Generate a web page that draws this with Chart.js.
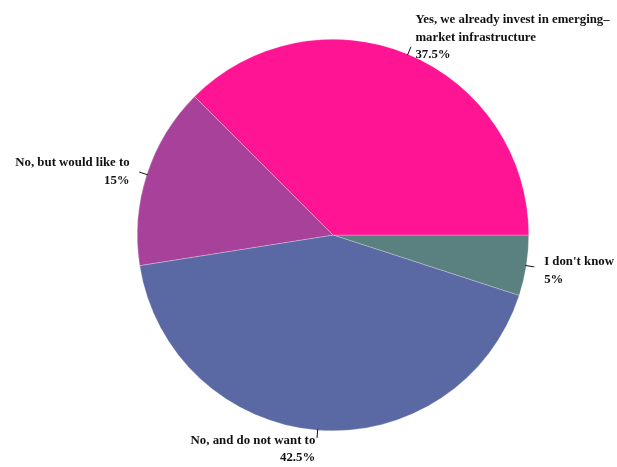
<!DOCTYPE html>
<html>
<head>
<meta charset="utf-8">
<script src="https://cdn.jsdelivr.net/npm/chart.js@4/dist/chart.umd.min.js"></script>
<style>
	html, body { margin: 0; padding: 0; background: #fff; }
	#wrap { width: 617px; height: 467px; }
</style>
</head>
<body>
<div id="wrap"><canvas id="chart" width="617" height="467"></canvas></div>
<script>
// Survey answers, counter-clockwise from 3 o'clock
const answers = [
	['Yes, we already invest in emerging–', 'market infrastructure'],
	['No, but would like to'],
	['No, and do not want to'],
	["I don't know"],
]
const shares = [37.5, 15, 42.5, 5]
const colors = ['#ff1493', '#a8419a', '#5a69a3', '#5a8080']

// Chart.js sweeps clockwise, so feed the slices in reverse
const order = shares.map((_, i) => i).reverse()

const FONT = 'bold 13.5px "Liberation Serif", "DejaVu Serif", serif'
const SQUEEZE = 0.95
const LINE_H = 17.8

const pieLabels = {
	id: 'pieLabels',
	afterDatasetsDraw(chart) {
		const ctx = chart.ctx
		const arcs = chart.getDatasetMeta(0).data
		ctx.save()
		ctx.font = FONT
		ctx.fillStyle = '#111'
		ctx.strokeStyle = '#111'
		ctx.lineWidth = 1
		arcs.forEach(function(arc, k) {
			const i = order[k]
			const p = arc.getProps(['x', 'y', 'startAngle', 'endAngle', 'outerRadius'], true)
			const mid = (p.startAngle + p.endAngle) / 2
			const cos = Math.cos(mid)
			const sin = Math.sin(mid)
			const r0 = p.outerRadius - 1
			const r1 = p.outerRadius + 8
			const ex = p.x + cos * r1
			const ey = p.y + sin * r1

			ctx.beginPath()
			ctx.moveTo(p.x + cos * r0, p.y + sin * r0)
			ctx.lineTo(ex, ey)
			ctx.stroke()

			// text block hangs away from the pie, centred on the leader end
			const lines = answers[i].concat([shares[i] + '%'])
			const blockH = lines.length * LINE_H
			const cy = ey + sin * LINE_H * 0.5 * Math.sqrt(lines.length - 1) + 2
			const right = cos < 0
			const tx = ex + (right ? -1 : 1) * (1 + 9 * Math.abs(cos))
			ctx.textBaseline = 'middle'
			lines.forEach(function(line, j) {
				const y = cy - blockH / 2 + LINE_H * (j + 0.5)
				const w = ctx.measureText(line).width * SQUEEZE
				const x = right ? tx - w : tx
				ctx.save()
				ctx.translate(x, y)
				ctx.scale(SQUEEZE, 1)
				ctx.textAlign = 'left'
				ctx.fillText(line, 0, 0)
				ctx.restore()
			})
		})
		ctx.restore()
	}
}

new Chart(document.getElementById('chart'), {
	type: 'pie',
	data: {
		labels: order.map(i => answers[i].join(' ')),
		datasets: [{
			data: order.map(i => shares[i]),
			backgroundColor: order.map(i => colors[i]),
			borderColor: 'rgba(255,255,255,0.5)',
			borderWidth: 0.5,
		}]
	},
	options: {
		responsive: false,
		animation: false,
		rotation: 90,
		layout: { padding: { top: 39, bottom: 36, left: 137, right: 88 } },
		plugins: {
			legend: { display: false },
			tooltip: { enabled: false },
		}
	},
	plugins: [pieLabels]
})
</script>
</body>
</html>
